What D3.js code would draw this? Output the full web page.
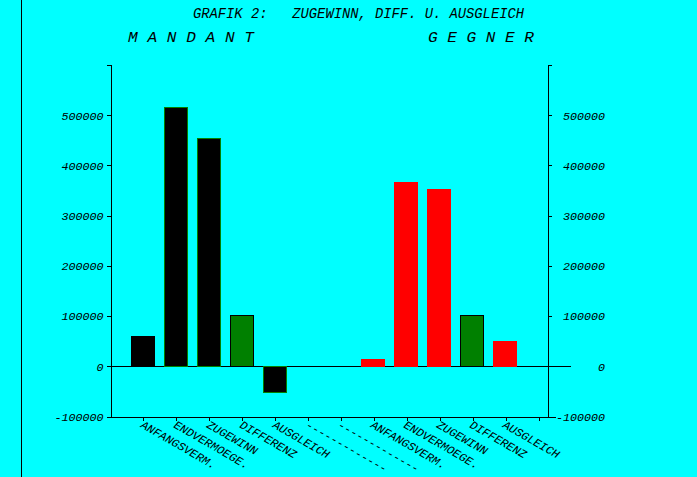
<!DOCTYPE html>
<html>
<head>
<meta charset="utf-8">
<script src="https://cdn.jsdelivr.net/npm/d3@7"></script>
<style>
  html, body { margin: 0; padding: 0; background: #00ffff; }
  svg { display: block; }
  text { font-family: "Liberation Mono", "DejaVu Sans Mono", monospace; font-style: italic; fill: #000; white-space: pre; }
</style>
</head>
<body>
<div id="chart"></div>
<script>
// ---- data ----
const title = "GRAFIK 2:   ZUGEWINN, DIFF. U. AUSGLEICH";
const leftHeading = "M A N D A N T";
const rightHeading = "G E G N E R";
const categories = ["ANFANGSVERM.", "ENDVERMOEGE.", "ZUGEWINN", "DIFFERENZ", "AUSGLEICH",
                    "-------------", "-------------",
                    "ANFANGSVERM.", "ENDVERMOEGE.", "ZUGEWINN", "DIFFERENZ", "AUSGLEICH", ""];
const mandantValues = [60000, 516000, 455000, 102000, -51000];
const gegnerValues = [14000, 367000, 353000, 102000, 51000];
const mandantSlots = [0, 1, 2, 3, 4];
const gegnerSlots = [7, 8, 9, 10, 11];
const yTickValues = [-100000, 0, 100000, 200000, 300000, 400000, 500000, 600000];
const yLabelValues = [-100000, 0, 100000, 200000, 300000, 400000, 500000];

// ---- styles ----
const BG = "#00ffff", GREEN = "#008000", RED = "#ff0000", BLACK = "#000000";
const mandantFill = [BLACK, BLACK, BLACK, GREEN, BLACK];
const mandantStroke = [BLACK, GREEN, GREEN, BLACK, GREEN];
const gegnerFill = [RED, RED, RED, GREEN, RED];
const gegnerStroke = [RED, RED, RED, BLACK, RED];

const W = 697, H = 477;
const svg = d3.select("#chart").append("svg").attr("width", W).attr("height", H)
  .attr("shape-rendering", "crispEdges");
svg.append("rect").attr("width", W).attr("height", H).attr("fill", BG);

const x = d3.scaleLinear().domain([-1, 12.5]).range([110.5, 555]);
const y = d3.scaleLinear().domain([-100000, 600000]).range([416.5, 65]);
const rightAxisX = 547.5;

// left frame line
svg.append("line").attr("x1", 21.5).attr("x2", 21.5).attr("y1", 0).attr("y2", H)
  .attr("stroke", BLACK);

// titles
svg.append("text").attr("x", 193).attr("y", 18).attr("font-size", 15).attr("xml:space", "preserve")
  .attr("textLength", 331).attr("lengthAdjust", "spacingAndGlyphs").text(title);
svg.append("text").attr("x", 128).attr("y", 42).attr("font-size", 15)
  .attr("textLength", 126).attr("lengthAdjust", "spacingAndGlyphs").text(leftHeading);
svg.append("text").attr("x", 428).attr("y", 42).attr("font-size", 15)
  .attr("textLength", 106).attr("lengthAdjust", "spacingAndGlyphs").text(rightHeading);

const fmt = d => yLabelValues.includes(d) ? String(d) : "";

// left axis
const gL = svg.append("g").attr("transform", `translate(${x(-1)},0)`)
  .call(d3.axisLeft(y).tickValues(yTickValues).tickFormat(fmt).tickSize(4).tickSizeOuter(4).tickPadding(3));
// right axis
const gR = svg.append("g").attr("transform", `translate(${rightAxisX},0)`)
  .call(d3.axisRight(y).tickValues(yTickValues).tickFormat(fmt).tickSize(4).tickSizeOuter(4).tickPadding(3));
gR.selectAll("text").attr("text-anchor", "end").attr("x", 605 - rightAxisX);

[gL, gR].forEach(g => {
  g.selectAll("path,line").attr("stroke", BLACK);
  g.selectAll("text")
    .attr("font-family", null).attr("font-size", 11.5)
    .attr("dy", "0.33em")
    .each(function () {
      const t = d3.select(this).text();
      if (t) d3.select(this).attr("textLength", t.length * 7).attr("lengthAdjust", "spacingAndGlyphs");
    });
});

// bottom axis
const gB = svg.append("g").attr("transform", `translate(0,${y(-100000)})`)
  .call(d3.axisBottom(x).tickValues(d3.range(categories.length)).tickFormat("").tickSize(4).tickSizeOuter(0));
gB.selectAll("path,line").attr("stroke", BLACK);

// zero line
svg.append("line").attr("x1", x(-1)).attr("x2", x(13))
  .attr("y1", Math.round(y(0)) + 0.5).attr("y2", Math.round(y(0)) + 0.5).attr("stroke", BLACK);

// bars
const bars = [];
mandantValues.forEach((v, i) => bars.push({ slot: mandantSlots[i], v, fill: mandantFill[i], stroke: mandantStroke[i] }));
gegnerValues.forEach((v, i) => bars.push({ slot: gegnerSlots[i], v, fill: gegnerFill[i], stroke: gegnerStroke[i] }));
const y0 = Math.round(y(0)) + 0.5;
svg.append("g").selectAll("rect").data(bars).join("rect")
  .attr("x", d => Math.floor(x(d.slot)) - 11.5)
  .attr("width", 23)
  .attr("y", d => d.v >= 0 ? Math.round(y(d.v)) + 0.5 : y0)
  .attr("height", d => Math.abs(Math.round(y(d.v)) + 0.5 - y0))
  .attr("fill", d => d.fill)
  .attr("stroke", d => d.stroke);

// category labels (rotated)
svg.append("g").selectAll("text").data(categories.map((c, i) => ({ c, i })).filter(d => d.c))
  .join("text")
  .attr("transform", d => `translate(${Math.floor(x(d.i)) + 1},420) rotate(30)`)
  .attr("dy", 8)
  .attr("font-size", 11.5)
  .attr("textLength", d => d.c.length * 7.05)
  .attr("lengthAdjust", "spacingAndGlyphs")
  .text(d => d.c);
</script>
</body>
</html>
